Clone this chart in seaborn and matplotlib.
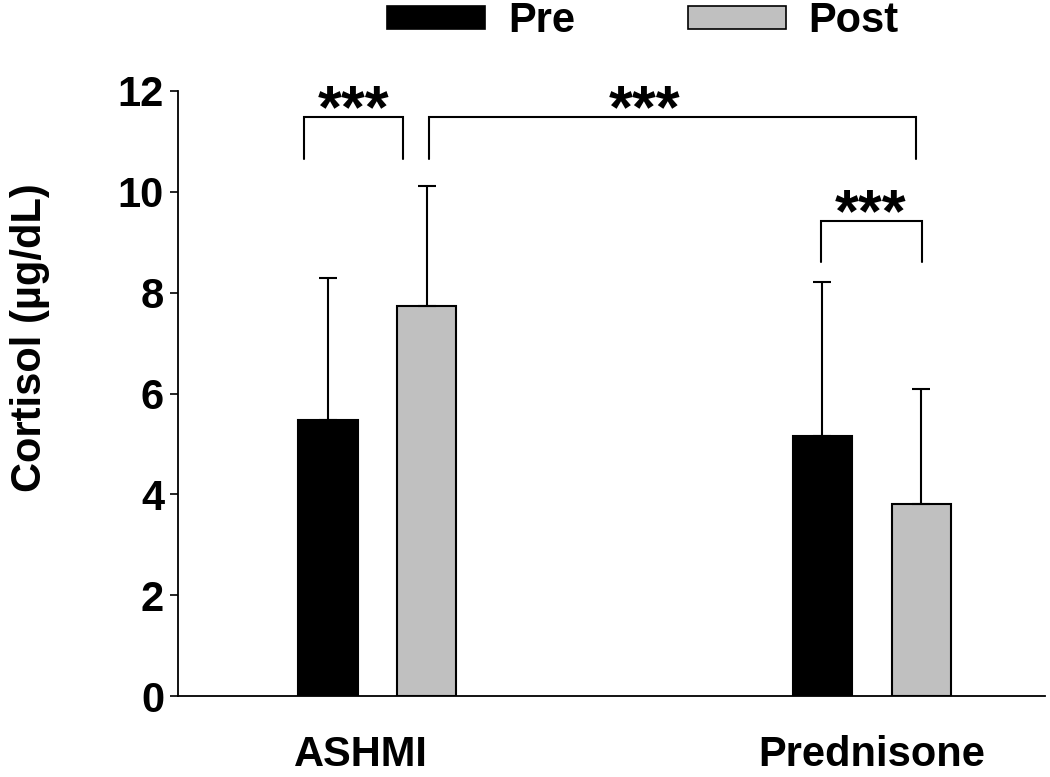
import numpy as np
import pandas as pd
import matplotlib
matplotlib.use("Agg")
import matplotlib.pyplot as plt
import matplotlib.patches as mpatches
import matplotlib.transforms as mtransforms
import seaborn as sns

# values
groups = ["ASHMI", "Prednisone"]
times = ["Pre", "Post"]
pre_mean = [5.47, 5.16]
post_mean = [7.74, 3.81]
pre_sd = [2.82, 3.05]
post_sd = [2.37, 2.28]
colors = ["#000000", "#C0C0C0"]
y_ticks = [0, 2, 4, 6, 8, 10, 12]

# significance brackets: (x left, x right, y top, y bottom left, y bottom right, star x)
brackets = [
    (-0.149, 0.051, 11.49, 10.65, 10.65, -0.047),
    (0.104, 1.090, 11.49, 10.65, 10.65, 0.54),
    (0.898, 1.102, 9.43, 8.60, 8.60, 0.998),
]

df = pd.DataFrame({
    "group": groups * 2,
    "time": ["Pre"] * 2 + ["Post"] * 2,
    "cortisol": pre_mean + post_mean,
})

sns.set_style("ticks")
plt.rcParams["font.family"] = ["Liberation Sans", "DejaVu Sans"]
plt.rcParams["font.weight"] = "bold"
plt.rcParams["text.color"] = "black"
plt.rcParams["axes.labelcolor"] = "black"
plt.rcParams["xtick.color"] = "black"
plt.rcParams["ytick.color"] = "black"
plt.rcParams["axes.edgecolor"] = "black"

fig = plt.figure(figsize=(10.5, 7.77), dpi=100)
ax = fig.add_axes([178 / 1050, 1 - 696 / 777, (1045 - 178) / 1050, (696 - 91) / 777])

sns.barplot(data=df, x="group", y="cortisol", hue="time", hue_order=times,
            order=groups, palette=colors, width=0.4, gap=0.4,
            edgecolor="black", linewidth=1.5, errorbar=None, legend=False, ax=ax)

# one-sided (upper) error bars
for cont, sd in zip(ax.containers, [pre_sd, post_sd]):
    for bar, err in zip(cont, sd):
        xc = bar.get_x() + bar.get_width() / 2
        ax.errorbar(xc, bar.get_height(), yerr=[[0], [err]], fmt="none",
                    ecolor="black", elinewidth=1.5, capsize=6.7, capthick=1.5,
                    zorder=1)

for x1, x2, ytop, yb1, yb2, sx in brackets:
    ax.plot([x1, x1, x2, x2], [yb1, ytop, ytop, yb2], color="black", lw=1.5,
            solid_joinstyle="miter", clip_on=False)
    ax.text(sx, ytop - 0.21, "***", ha="center", va="baseline",
            fontsize=44, fontweight="bold", color="black")

ax.set_xlim(-0.403, 1.35)
ax.set_ylim(0, 12)
ax.set_yticks(y_ticks)
ax.set_yticklabels([str(t) for t in y_ticks])
ax.set_xlabel("")
ax.set_ylabel("Cortisol (\u00b5g/dL)", fontsize=30, fontweight="bold")
ax.yaxis.set_label_coords(-0.148, 0.593)
ax.tick_params(axis="y", length=6, width=1.2, pad=4, labelsize=30, direction="out")
ax.tick_params(axis="x", length=0, pad=28, labelsize=30)
for lab in ax.get_xticklabels() + ax.get_yticklabels():
    lab.set_fontweight("bold")
# the ASHMI label sits a little left of its group centre in the reference
shift = mtransforms.ScaledTranslation(-16 / 100, 0, fig.dpi_scale_trans)
ax.get_xticklabels()[0].set_transform(ax.get_xticklabels()[0].get_transform() + shift)
sns.despine(ax=ax)
for side in ["left", "bottom"]:
    ax.spines[side].set_linewidth(1.3)

handles = [mpatches.Patch(facecolor=c, edgecolor="black", linewidth=1.2, label=t)
           for c, t in zip(colors, times)]
fig.legend(handles=handles, loc="center", ncol=2, frameon=False,
           bbox_to_anchor=(643 / 1050, 1 - 21 / 777), bbox_transform=fig.transFigure,
           prop={"size": 30, "weight": "bold"}, handlelength=2.35, handleheight=0.46,
           handletextpad=0.55, columnspacing=2.7, borderpad=0)

fig.savefig("out.png", dpi=100)
